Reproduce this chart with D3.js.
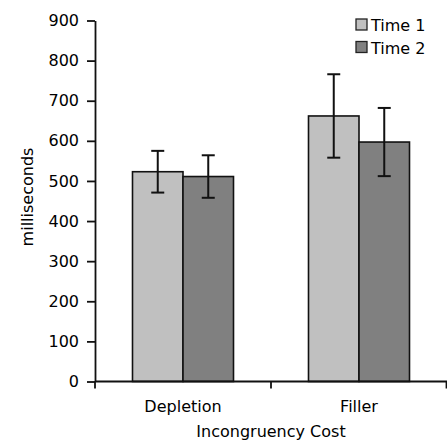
<!DOCTYPE html>
<html><head><meta charset="utf-8">
<script src="https://cdn.jsdelivr.net/npm/d3@7"></script>
<style>body{margin:0;background:#fff}svg{display:block}text{font-family:"DejaVu Sans",sans-serif;fill:#000}</style>
</head><body><svg id="c" width="447" height="440"></svg>
<script>
const categories = ["Depletion", "Filler"];
const series = ["Time 1", "Time 2"];
const time1 = [523, 662];
const time2 = [511, 597];
const err1 = [52, 104];
const err2 = [53, 85];
const yTicks = [0,100,200,300,400,500,600,700,800,900];
const colors = ["#c0c0c0", "#808080"];

const svg = d3.select("#c");
const m = {l:95, r:0, t:20.5, b:58.5};
const W = 447, H = 440;
const FS = "16px";
const x0 = d3.scaleBand().domain(categories).range([m.l, W]).paddingInner(0).paddingOuter(0);
const y = d3.scaleLinear().domain([0,900]).range([H-m.b, m.t]);
const groupW = 101;
const x1 = d3.scaleBand().domain(series).range([0, groupW]);

const data = categories.map((c,i)=>({cat:c, vals:[{s:series[0],v:time1[i],e:err1[i]},{s:series[1],v:time2[i],e:err2[i]}]}));

const g = svg.append("g");
data.forEach(d=>{
  const gx = x0(d.cat) + (x0.bandwidth()-groupW)/2;
  d.vals.forEach((b,j)=>{
    const bx = gx + x1(b.s);
    g.append("rect").attr("x",bx).attr("y",y(b.v)).attr("width",x1.bandwidth()).attr("height",y(0)-y(b.v))
      .attr("fill",colors[j]).attr("stroke","#111").attr("stroke-width",1.6);
    const cx = bx + x1.bandwidth()/2;
    g.append("line").attr("x1",cx).attr("x2",cx).attr("y1",y(b.v+b.e)).attr("y2",y(b.v-b.e)).attr("stroke","#111").attr("stroke-width",2);
    [b.v+b.e, b.v-b.e].forEach(v=>{
      g.append("line").attr("x1",cx-6.5).attr("x2",cx+6.5).attr("y1",y(v)).attr("y2",y(v)).attr("stroke","#111").attr("stroke-width",2);
    });
  });
});

// y axis
const ya = svg.append("g").attr("transform",`translate(${m.l},0)`)
  .call(d3.axisLeft(y).tickValues(yTicks).tickSize(8).tickPadding(8).tickSizeOuter(0));
ya.select(".domain").attr("stroke","#111").attr("stroke-width",1.8);
ya.selectAll(".tick line").attr("stroke","#111").attr("stroke-width",1.8);
ya.selectAll(".tick text").style("font-size",FS).style("font-family","DejaVu Sans").style("fill","#000");

// x axis
const xa = svg.append("g").attr("transform",`translate(0,${y(0)})`);
xa.append("line").attr("x1",m.l).attr("x2",W).attr("y1",0).attr("y2",0).attr("stroke","#111").attr("stroke-width",1.8);
const bounds = [m.l, x0(categories[1]), W-0.5];
bounds.forEach(b=>xa.append("line").attr("x1",b).attr("x2",b).attr("y1",0).attr("y2",7).attr("stroke","#111").attr("stroke-width",1.8));
categories.forEach(c=>xa.append("text").attr("x",x0(c)+x0.bandwidth()/2).attr("y",30.5).attr("text-anchor","middle").style("font-size",FS).text(c));

svg.append("text").attr("x",(m.l+W)/2).attr("y",437).attr("text-anchor","middle").style("font-size",FS).text("Incongruency Cost");
svg.append("text").attr("transform",`translate(33,197) rotate(-90)`).attr("text-anchor","middle").style("font-size",FS).text("milliseconds");

// legend
const lg = svg.append("g").attr("transform","translate(356,19)");
series.forEach((s,i)=>{
  lg.append("rect").attr("x",0).attr("y",i*22.5).attr("width",11).attr("height",11).attr("fill",colors[i]).attr("stroke","#222").attr("stroke-width",1.3);
  lg.append("text").attr("x",15).attr("y",i*23.5+11.5).style("font-size",FS).text(s);
});
</script></body></html>
